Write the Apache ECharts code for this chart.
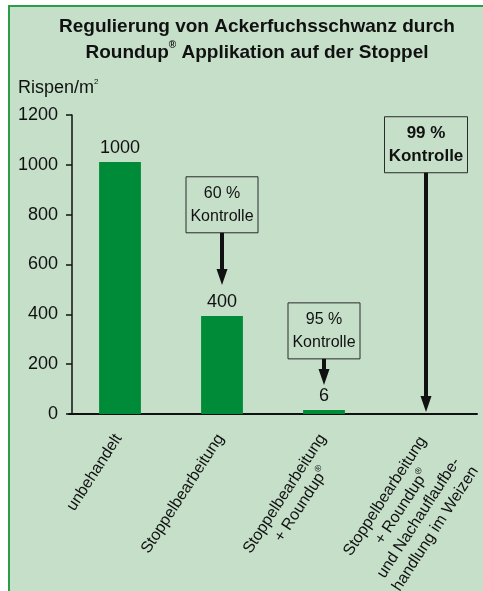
<!DOCTYPE html>
<html><head><meta charset="utf-8">
<script src="https://cdn.jsdelivr.net/npm/echarts@6/dist/echarts.min.js"></script>
<style>
html,body{margin:0;padding:0;background:#fff;overflow:hidden}
#frame{position:absolute;left:8px;top:5px;width:475px;height:586px;background:#c5dfc9;border-left:2px solid #2a9d49;border-top:2px solid #2a9d49;box-sizing:border-box}
#chart{position:absolute;left:0;top:0;width:483px;height:591px}
</style>
</head><body>
<div id="frame"></div><div id="chart"></div>
<script>
// ---- data ----
const categories = [
  'unbehandelt',
  'Stoppelbearbeitung',
  'Stoppelbearbeitung\n+ Roundup®',
  'Stoppelbearbeitung\n+ Roundup®\nund Nachauflaufbe-\nhandlung im Weizen'
];
const barValues = [1011, 393, 16, 0];
const barLabels = ['1000', '400', '6', ''];
const yMin = 0, yMax = 1200, yInterval = 200;

const annCategory = [1, 2, 3];
const annBoxTop = [952, 446, 1193];
const annArrowTip = [518, 116, 8];
const annPercent = ['60 %', '95 %', '99 %'];
const annWord = ['Kontrolle', 'Kontrolle', 'Kontrolle'];
const annBold = [false, false, true];

const titleText = 'Regulierung von Ackerfuchsschwanz durch\nRoundup{s|®} Applikation auf der Stoppel';
const yName = 'Rispen/m{s|2}';

// ---- style ----
const FF = '"Liberation Sans", Arial, sans-serif';
const INK = '#111';
const BAR = '#008b39';

function richLabel(s) {
  return s.split('\n').map(l => '{c|' + l.replace(/®/g, '}{s|®}{c|') + '}').join('\n');
}

const chart = echarts.init(document.getElementById('chart'), null, {renderer: 'canvas', width: 483, height: 591});
chart.setOption({
  backgroundColor: 'transparent',
  animation: false,
  title: [
    {
      text: titleText, left: 252, textAlign: 'center', top: 9,
      textStyle: {fontFamily: FF, fontSize: 19, fontWeight: 'bold', color: INK, lineHeight: 26,
        rich: {s: {fontFamily: FF, fontSize: 10, fontWeight: 'bold', color: INK, verticalAlign: 'top', lineHeight: 22}}}
    },
    {
      text: yName, left: 13, top: 73,
      textStyle: {fontFamily: FF, fontSize: 18, fontWeight: 'normal', color: INK, lineHeight: 20,
        rich: {s: {fontFamily: FF, fontSize: 8, color: INK, verticalAlign: 'top', lineHeight: 16}}}
    }
  ],
  grid: {left: 69, right: 6, top: 115, bottom: 177, containLabel: false, outerBoundsMode: 'none'},
  xAxis: {
    type: 'category',
    data: categories,
    axisLine: {lineStyle: {color: INK, width: 2}},
    axisTick: {show: false},
    axisLabel: {
      interval: 0, rotate: 57, margin: 1, verticalAlign: 'top', padding: [0, 18, 0, 0],
      formatter: v => richLabel(v),
      rich: {
        c: {align: 'center', fontFamily: FF, fontSize: 16, color: INK, lineHeight: 20},
        s: {align: 'center', fontFamily: FF, fontSize: 9, color: INK, verticalAlign: 'top', lineHeight: 18}
      }
    }
  },
  yAxis: {
    type: 'value', min: yMin, max: yMax, interval: yInterval, offset: -3,
    axisLine: {show: true, lineStyle: {color: INK, width: 1.5}},
    axisTick: {show: true, length: 6, lineStyle: {color: INK, width: 1.5}},
    splitLine: {show: false},
    axisLabel: {fontFamily: FF, fontSize: 18, color: INK, margin: 14, formatter: v => String(v)}
  },
  series: [
    {
      type: 'bar', data: barValues, barWidth: '41%',
      itemStyle: {color: BAR},
      label: {show: true, position: 'top', distance: 5, fontFamily: FF, fontSize: 18, color: INK,
        formatter: p => barLabels[p.dataIndex]}
    },
    {
      type: 'custom',
      data: annCategory.map((c, i) => [c, annBoxTop[i], annArrowTip[i]]),
      renderItem: function (params, api) {
        const i = params.dataIndex;
        const top = api.coord([api.value(0), api.value(1)]);
        const tip = api.coord([api.value(0), api.value(2)]);
        const bold = annBold[i];
        const w = bold ? 83 : 72, h = 56;
        const cx = top[0], y0 = top[1], tipY = tip[1];
        const headLen = 16, headW = 11;
        return {
          type: 'group',
          children: [
            {type: 'rect', shape: {x: cx - w / 2, y: y0, width: w, height: h},
              style: {fill: 'transparent', stroke: '#2b2b2b', lineWidth: 1}},
            {type: 'text', style: {text: annPercent[i] + '\n' + annWord[i], x: cx, y: y0 + h / 2,
              align: 'center', verticalAlign: 'middle', fontFamily: FF, fontSize: bold ? 17 : 16,
              fontWeight: bold ? 'bold' : 'normal', lineHeight: 23, fill: INK}},
            {type: 'line', shape: {x1: cx, y1: y0 + h, x2: cx, y2: tipY - headLen + 2},
              style: {stroke: INK, lineWidth: 4}},
            {type: 'polygon', shape: {points: [[cx - headW / 2, tipY - headLen], [cx + headW / 2, tipY - headLen], [cx, tipY]]},
              style: {fill: INK}}
          ]
        };
      }
    }
  ]
});
</script>
</body></html>
